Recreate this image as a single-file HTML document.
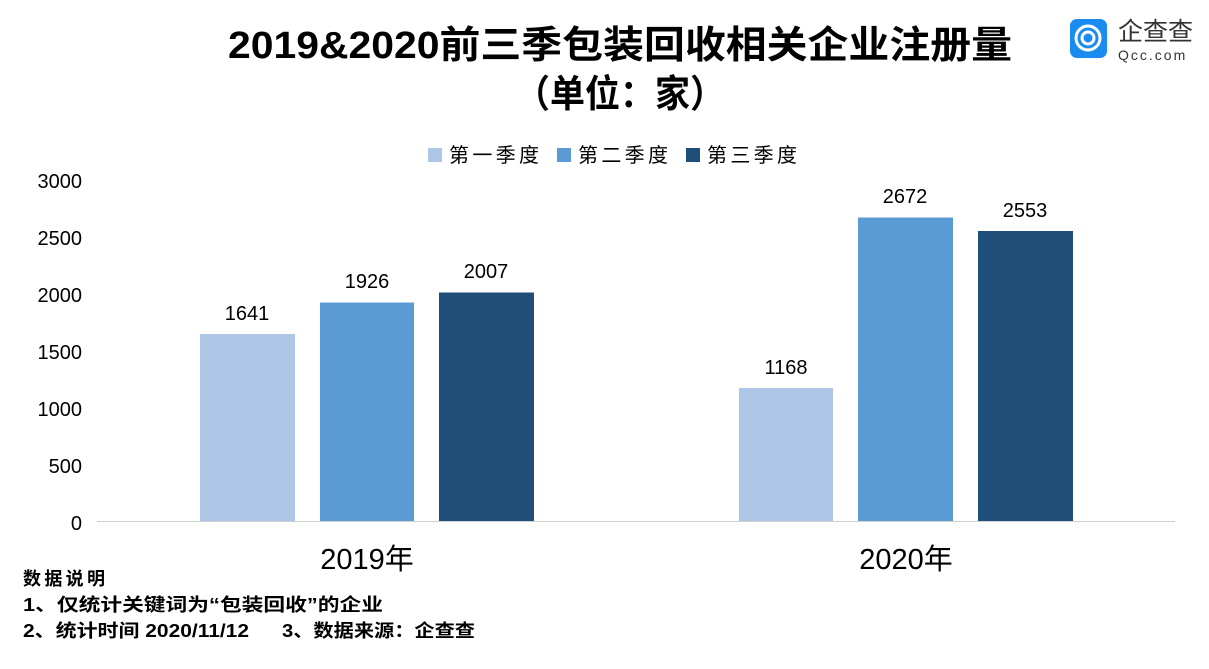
<!DOCTYPE html>
<html><head><meta charset="utf-8"><style>
body{margin:0;background:#fff;}
svg text{font-family:"Liberation Sans","Noto Sans CJK SC",sans-serif;}
</style></head><body>
<svg width="1209" height="664" xmlns="http://www.w3.org/2000/svg">
<rect width="1209" height="664" fill="#fff"/>
<text x="228" y="58" textLength="784" lengthAdjust="spacingAndGlyphs" font-size="38" font-weight="bold" fill="#000">2019&amp;2020前三季包装回收相关企业注册量</text>
<text x="515" y="107" textLength="210" lengthAdjust="spacingAndGlyphs" font-size="38" font-weight="bold" fill="#000">（单位：家）</text>
<!-- logo -->
<rect x="1070" y="19" width="37" height="39" rx="7" fill="#1a8cf0"/>
<circle cx="1088" cy="38" r="12" fill="none" stroke="#fff" stroke-width="3"/>
<circle cx="1088" cy="38" r="6" fill="none" stroke="#fff" stroke-width="3"/>
<text x="1118" y="40" font-size="25" fill="#333">企查查</text>
<text x="1118" y="60" font-size="14" fill="#333" letter-spacing="2">Qcc.com</text>
<!-- legend -->
<rect x="428" y="148" width="14" height="14" fill="#adc6e5"/>
<text x="449" y="162" font-size="20" textLength="90">第一季度</text>
<rect x="557" y="148" width="14" height="14" fill="#5b9bd5"/>
<text x="578" y="162" font-size="20" textLength="90">第二季度</text>
<rect x="686" y="148" width="14" height="14" fill="#1f4e79"/>
<text x="707" y="162" font-size="20" textLength="90">第三季度</text>
<!-- y axis labels -->
<g font-size="20" text-anchor="end" fill="#000">
<text x="82" y="188">3000</text>
<text x="82" y="245">2500</text>
<text x="82" y="302">2000</text>
<text x="82" y="359">1500</text>
<text x="82" y="416">1000</text>
<text x="82" y="473">500</text>
<text x="82" y="530">0</text>
</g>
<line x1="97" y1="521.5" x2="1175" y2="521.5" stroke="#d0d0d0" stroke-width="1"/>
<!-- bars -->
<rect x="200" y="334" width="95" height="187" fill="#adc6e5"/>
<rect x="320" y="302.5" width="94" height="218.5" fill="#5b9bd5"/>
<rect x="439" y="292.5" width="95" height="228.5" fill="#1f4e79"/>
<rect x="739" y="388" width="94" height="133" fill="#adc6e5"/>
<rect x="858" y="217.5" width="95" height="303.5" fill="#5b9bd5"/>
<rect x="978" y="231" width="95" height="290" fill="#1f4e79"/>
<g font-size="20" text-anchor="middle" fill="#000">
<text x="247" y="320">1641</text>
<text x="367" y="288">1926</text>
<text x="486" y="278">2007</text>
<text x="786" y="374">1168</text>
<text x="905" y="203">2672</text>
<text x="1025" y="217">2553</text>
</g>
<text x="367" y="569" text-anchor="middle" font-size="29">2019年</text>
<text x="906" y="569" text-anchor="middle" font-size="29">2020年</text>
<g font-size="18" font-weight="bold" fill="#000">
<text x="23" y="585" textLength="82">数据说明</text>
<text x="23" y="611" textLength="360" lengthAdjust="spacingAndGlyphs">1、仅统计关键词为“包装回收”的企业</text>
<text x="23" y="637" textLength="226" lengthAdjust="spacingAndGlyphs">2、统计时间 2020/11/12</text>
<text x="282" y="637" textLength="193" lengthAdjust="spacingAndGlyphs">3、数据来源：企查查</text>
</g>
</svg>
</body></html>
